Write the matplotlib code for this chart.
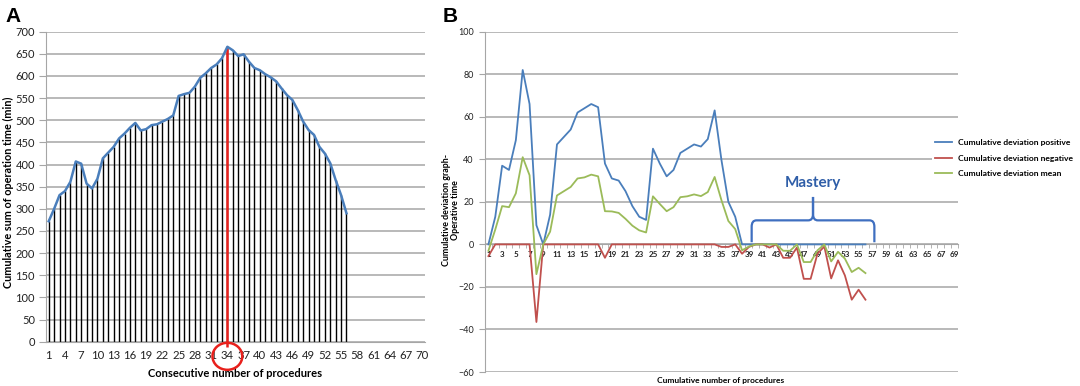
import matplotlib
matplotlib.use("Agg")
import matplotlib.pyplot as plt
from matplotlib.patches import Ellipse, PathPatch
from matplotlib.path import Path
import numpy as np

plt.rcParams['font.family'] = ['Lato', 'DejaVu Sans']

# ---------------- Data ----------------
# Panel A: cumulative sum of operation time (min) per consecutive procedure
proc_a = list(range(1, 57))
cusum_a = [272, 300, 331, 340, 361, 407, 402, 357, 346, 368,
           414, 427, 440, 459, 470, 483, 494, 477, 480, 489,
           491, 497, 503, 511, 555, 559, 562, 576, 596, 606,
           618, 626, 640, 666, 658, 645, 649, 632, 618, 613,
           604, 597, 588, 572, 557, 546, 523, 497, 478, 467,
           440, 425, 403, 365, 331, 290]
mastery_proc = 34
xtick_a = list(range(1, 71, 3))
ytick_a = list(range(0, 701, 50))

# Panel B: cumulative deviation graph - operative time
proc_b = list(range(1, 57))
dev_pos = [0, 13, 37, 35, 49, 82, 66, 9, 0, 14,
           47, 50.5, 54, 62, 64, 66, 64.5, 38, 31, 30,
           25, 18, 13, 11.5, 45, 38, 32, 35, 43, 45,
           47, 46, 49.5, 63, 39.5, 20, 13, 0, 0, 0,
           0, 0, 0, 0, 0, 0, 0, 0, 0, 0,
           0, 0, 0, 0, 0, 0]
dev_neg = [-5.5, 0, 0, 0, 0, 0, 0, -36.5, 0, 0,
           0, 0, 0, 0, 0, 0, 0, -6.3, 0, 0,
           0, 0, 0, 0, 0, 0, 0, 0, 0, 0,
           0, 0, 0, 0, -1.2, -1.2, 0, -4.4, -1.2, 0,
           0, -1.5, 0, -6.3, -6.3, -1.5, -16.2, -16.2, -4.4, -1,
           -16, -7.5, -14.6, -26, -21.3, -26]
dev_mean = [-3, 7, 18, 17.5, 24, 41, 32.5, -14, 0, 6,
            23, 25, 27, 31, 31.5, 32.8, 32, 15.6, 15.5, 14.8,
            12, 8.8, 6.6, 5.6, 22.6, 19, 15.6, 17.5, 22.2, 22.6,
            23.5, 22.7, 24.6, 31.7, 20.7, 11, 7.2, -2.8, -1, 0,
            0, 0, 0, -3, -3, 0, -8.3, -8.3, -2.8, 0,
            -8, -3.5, -6.7, -13, -11, -13.5]
xtick_b = list(range(1, 70, 2))
ytick_b = list(range(-60, 101, 20))
series_labels = ['Cumulative deviation positive',
                 'Cumulative deviation negative',
                 'Cumulative deviation mean']
mastery_start, mastery_end = 39.4, 57.3

# ---------------- Styles ----------------
GRID = '#a6a6a6'
BLUE = '#4a7ebb'
RED = '#c0504d'
GREEN = '#9bbb59'
fig = plt.figure(figsize=(10.8, 3.86), dpi=100)

# ---------------- Panel A ----------------
axA = fig.add_axes([46/1080, (386-341.7)/386, 379/1080, 310/386])
axA.set_xlim(0.5, 70.5)
axA.set_ylim(0, 700)
axA.set_yticks(ytick_a)
axA.yaxis.grid(True, color=GRID, lw=1.1)
axA.set_axisbelow(True)
axA.vlines(proc_a, 0, cusum_a, color='black', lw=1.0, zorder=2)
idx = proc_a.index(mastery_proc)
axA.vlines([mastery_proc], -12, [cusum_a[idx]], color='#e8201c', lw=1.8,
           zorder=3, clip_on=False)
axA.plot(proc_a, cusum_a, color=BLUE, lw=1.8, zorder=4)
axA.set_xticks(xtick_a)
axA.tick_params(axis='x', length=0, pad=6, labelsize=8.2, colors='#222222')
axA.tick_params(axis='y', length=5, color=GRID, pad=3, labelsize=8.0, colors='#222222')
for s in ['top', 'right']:
    axA.spines[s].set_visible(False)
axA.spines['left'].set_color(GRID)
axA.spines['bottom'].set_color(GRID)
axA.add_patch(Ellipse((mastery_proc, -33), width=5.5, height=61, fill=False,
                      edgecolor='#e8201c', lw=1.8, clip_on=False, zorder=5))
fig.text(8/1080, 1-192/386, 'Cumulative sum of operation time (min)',
         rotation=90, ha='center', va='center', fontsize=7.8,
         fontweight='bold')
axA.set_xlabel('Consecutive number of procedures', fontsize=8,
               fontweight='bold', labelpad=5)

# ---------------- Panel B ----------------
axB = fig.add_axes([485/1080, 14/386, 473/1080, 340.3/386])
axB.set_xlim(0.5, 69.5)
axB.set_ylim(-60, 100)
axB.set_yticks(ytick_b)
axB.yaxis.grid(True, color=GRID, lw=1.1)
axB.set_axisbelow(True)
lp, = axB.plot(proc_b, dev_pos, color=BLUE, lw=1.3, zorder=3)
ln, = axB.plot(proc_b, dev_neg, color=RED, lw=1.3, zorder=3)
lm, = axB.plot(proc_b, dev_mean, color=GREEN, lw=1.3, zorder=3)
for s in ['top', 'right']:
    axB.spines[s].set_visible(False)
axB.spines['left'].set_color(GRID)
axB.spines['bottom'].set_color(GRID)
axB.spines['bottom'].set_position(('data', 0))
axB.set_xticks(xtick_b)
axB.set_xticks(np.arange(0.5, 70, 1), minor=True)
axB.tick_params(axis='x', which='major', length=0, pad=5, labelsize=5.8,
                colors='#222222')
axB.tick_params(axis='x', which='minor', length=3, color=GRID)
for lab in axB.get_xticklabels():
    lab.set_fontweight('bold')
axB.tick_params(axis='y', length=4, color=GRID, pad=4, labelsize=6.5,
                colors='#222222')
fig.text(451/1080, 1-210/386, 'Cumulative deviation graph-\nOperative time',
         rotation=90, ha='center', va='center', fontsize=6.4,
         fontweight='bold', linespacing=1.1)
fig.text(721/1080, 1-381/386, 'Cumulative number of procedures',
         ha='center', va='center', fontsize=6, fontweight='bold')

# Mastery brace
xl, xr = mastery_start, mastery_end
xm = (xl + xr) / 2
yb, yh, yt = 1.0, 11.3, 22.3
rx, ry = 0.7, 3.0
verts = [(xl, yb), (xl, yh - ry), (xl, yh), (xl + rx, yh), (xm - rx, yh),
         (xm, yh), (xm, yh + ry), (xm, yt),
         (xm, yt), (xm, yh + ry), (xm, yh), (xm + rx, yh), (xr - rx, yh),
         (xr, yh), (xr, yh - ry), (xr, yb)]
codes = [Path.MOVETO, Path.LINETO, Path.CURVE3, Path.CURVE3, Path.LINETO,
         Path.CURVE3, Path.CURVE3, Path.LINETO,
         Path.MOVETO, Path.LINETO, Path.CURVE3, Path.CURVE3, Path.LINETO,
         Path.CURVE3, Path.CURVE3, Path.LINETO]
axB.add_patch(PathPatch(Path(verts, codes), fill=False, edgecolor='#3f6fc0',
                        lw=1.6, zorder=4))
axB.text(xm, 28.7, 'Mastery', ha='center', va='center', fontsize=11,
         fontweight='bold', color='#2f5ea8')

leg = fig.legend([lp, ln, lm], series_labels, loc='center left',
                 bbox_to_anchor=(928/1080, 1-158/386), fontsize=6.1,
                 frameon=True, facecolor='white', edgecolor='none',
                 framealpha=1, handlelength=2.0, labelspacing=0.95,
                 handletextpad=0.8, borderpad=0.3)
for t in leg.get_texts():
    t.set_fontweight('bold')

# Panel letters
fig.text(5/1080, 1-22/386, 'A', fontsize=15, fontweight='bold',
         family=['Liberation Sans', 'DejaVu Sans'], va='baseline')
fig.text(443/1080, 1-22/386, 'B', fontsize=15, fontweight='bold',
         family=['Liberation Sans', 'DejaVu Sans'], va='baseline')

fig.savefig('out.png', dpi=100)
